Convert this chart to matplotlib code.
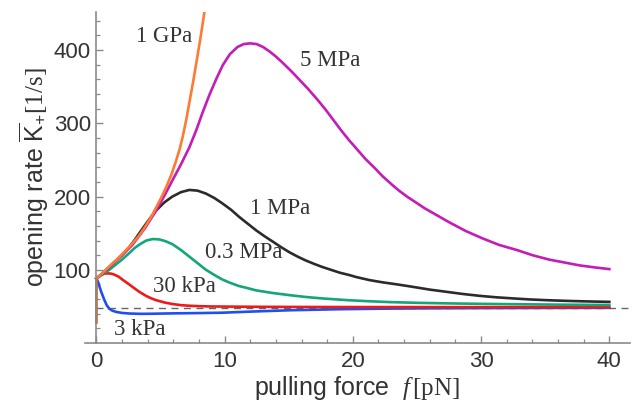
import matplotlib
matplotlib.use("Agg")
import matplotlib.pyplot as plt
from matplotlib.ticker import MultipleLocator, FixedLocator

plt.rcParams['font.family'] = ['Liberation Sans', 'DejaVu Sans']
plt.rcParams['mathtext.fontset'] = 'custom'
plt.rcParams['mathtext.rm'] = 'Liberation Serif'
plt.rcParams['mathtext.it'] = 'Liberation Serif:italic'
plt.rcParams['mathtext.sf'] = 'Liberation Sans'

# values
f_1gpa = [0, 0.6, 1.25, 2.0, 2.81, 3.3, 3.7, 4.2, 4.66, 5.1, 5.45, 5.85, 6.22, 6.5, 6.75,
          7.0, 7.25, 7.55, 7.85, 8.15, 8.42, 8.6]
k_1gpa = [88, 97.5, 108.5, 121, 136, 146, 156, 170, 185, 200, 213, 230, 249, 265, 283,
          304, 328, 357, 388, 420, 451, 472]

f_5mpa = [0, 0.6, 1.25, 2.0, 2.81, 3.8, 4.66, 5.3, 5.93, 6.6, 7.25, 7.8, 8.27, 8.8, 9.34,
          9.85, 10.4, 11.0, 11.5, 12.0, 12.5, 13.0, 13.5, 14.0, 14.5, 15.2, 15.8, 16.5,
          17.2, 17.9, 18.5, 19.1, 19.7, 20.4, 21.0, 21.7, 22.3, 23.0, 23.6, 24.3, 25.0,
          25.6, 26.2, 26.9, 27.5, 28.8, 30.1, 31.4, 32.8, 34.0, 35.3, 36.5, 37.7, 39.0, 40]
k_5mpa = [88, 97, 108, 120, 134, 157, 181, 201, 222, 244, 267, 291, 314, 338, 360,
          379, 394, 404, 408, 409, 408, 404, 398, 391, 383, 371, 360, 347,
          333, 318, 304, 290, 277, 263, 251, 239, 228, 217, 208, 199, 191,
          184, 178, 171, 165, 153, 143, 134, 127, 120, 114, 110, 106, 103, 101]

f_1mpa = [0, 0.6, 1.25, 2.0, 2.57, 3.0, 3.35, 4.0, 4.66, 5.3, 5.93, 6.6, 7.25, 7.9, 8.55,
          9.2, 9.8, 10.5, 11.15, 11.8, 12.45, 13.1, 13.8, 14.4, 15.05, 15.7, 16.3, 17.0,
          17.6, 18.3, 19.0, 19.7, 20.3, 21.3, 22.3, 23.5, 24.6, 26.0, 27.3, 28.6, 29.9,
          31.2, 32.5, 33.8, 35.1, 36.4, 37.6, 38.8, 40]
k_1mpa = [88, 97, 108, 120, 131, 141, 150, 166, 181, 192, 200, 206, 209, 208, 204,
          198, 191, 182, 172, 163, 154, 146, 138, 131, 124, 118, 113, 108,
          104, 100, 96, 93, 90, 86, 83, 80, 77, 73, 70, 67, 64.5,
          62.5, 61, 59.6, 58.6, 57.8, 57.2, 56.7, 56.3]

f_03mpa = [0, 0.5, 1.0, 1.5, 2.0, 2.57, 3.0, 3.4, 3.9, 4.4, 4.9, 5.4, 5.93, 6.6, 7.25,
           7.9, 8.55, 9.2, 9.8, 10.4, 11.1, 11.8, 12.45, 13.7, 15.05, 16.3, 17.6, 19.5,
           21.2, 22.85, 25, 27.5, 30, 33, 36, 40]
k_03mpa = [88, 94, 100, 107, 114, 123, 130, 135, 140, 142, 141.5, 139, 135, 127, 118,
           109, 100, 93, 87, 82.5, 78, 75, 72, 68.5, 65.5, 63, 61, 58.7,
           57.2, 56, 55, 54.2, 53.6, 53, 52.5, 52]

f_30kpa = [0, 0.3, 0.6, 0.88, 1.15, 1.4, 1.75, 2.05, 2.3, 2.57, 2.95, 3.35, 3.87, 4.25,
           4.66, 5.3, 5.95, 6.6, 7.25, 8, 9, 10.5, 12, 15, 20, 30, 40]
k_30kpa = [88, 92.5, 94.7, 95.2, 94.8, 93.5, 90.5, 86.5, 83.3, 80, 75, 70, 64.5, 61.3,
           58.6, 55.5, 53.3, 51.8, 51, 50.4, 50, 49.8, 49.6, 49.4, 49.2, 49.1, 49]

f_3kpa = [0, 0.12, 0.23, 0.4, 0.62, 0.8, 1.0, 1.25, 1.54, 2.0, 2.57, 3.35, 3.9, 5, 6, 8,
          9.8, 12, 15, 19, 22.85, 26, 30, 35, 40]
k_3kpa = [88, 84, 78, 69, 59, 52, 47, 44.3, 42.6, 41.2, 40.4, 40, 40, 40.3, 40.6, 41,
          41.5, 43, 44.8, 46.3, 47.1, 47.5, 47.8, 48, 48.1]

f_edge = [0, 0]
k_edge = [29, 88]

k_limit = 48.6

labels = ["1 GPa", "5 MPa", "1 MPa", "0.3 MPa", "30 kPa", "3 kPa"]
label_f = [5.3, 18.2, 14.3, 11.5, 6.9, 3.35]
label_k = [418, 386, 184, 124, 77, 18]

fig = plt.figure(figsize=(6.33, 4.08), dpi=100)
ax = fig.add_axes([0.134, 0.159, 0.861, 0.812])

ax.axhline(k_limit, xmin=0.9 / 42.5, color='#666666', lw=1.0, ls=(0, (5, 4)), zorder=1)

lw = 1.9
ax.plot(f_3kpa, k_3kpa, color='#1f4ff0', lw=lw)
ax.plot(f_30kpa, k_30kpa, color='#ee1a1a', lw=lw)
ax.plot(f_03mpa, k_03mpa, color='#14a57a', lw=lw)
ax.plot(f_1mpa, k_1mpa, color='#2b2b2b', lw=lw)
ax.plot(f_5mpa, k_5mpa, color='#c41cb6', lw=lw)
ax.plot(f_1gpa, k_1gpa, color='#ff7a32', lw=lw)
ax.plot(f_edge, k_edge, color='#c8682e', lw=lw)

for t, x, y in zip(labels, label_f, label_k):
    ax.text(x, y, t, ha='center', va='center', fontsize=16.5,
            family='Liberation Serif', color='#333333')

ax.set_xlim(-0.9, 41.6)
ax.set_ylim(0, 452)

for s in ['top', 'right']:
    ax.spines[s].set_visible(False)
ax.spines['left'].set_position(('data', 0))
ax.spines['bottom'].set_position(('data', 0))
for s in ['left', 'bottom']:
    ax.spines[s].set_color('#8a8a8a')
    ax.spines[s].set_linewidth(1.2)

ax.xaxis.set_major_locator(MultipleLocator(10))
ax.xaxis.set_minor_locator(MultipleLocator(2))
ax.yaxis.set_major_locator(FixedLocator([100, 200, 300, 400]))
ax.yaxis.set_minor_locator(FixedLocator([20, 40, 60, 80, 120, 140, 160, 180, 220, 240, 260,
                                         280, 320, 340, 360, 380, 420, 440]))
ax.tick_params(which='both', direction='in', color='#8a8a8a', labelsize=16,
               labelcolor='#333333')
ax.tick_params(which='major', length=5, width=1.0)
ax.tick_params(which='minor', length=3, width=0.9)
ax.tick_params(axis='y', pad=4)
ax.tick_params(axis='x', pad=6)

ax.set_xlabel(r"pulling force  $f\,\mathrm{[pN]}$", fontsize=18, color='#333333', labelpad=1)
ax.set_ylabel(r"opening rate $\overline{\mathsf{K}}_{\mathsf{+}}\mathrm{[1/s]}$", fontsize=18,
              color='#333333', labelpad=2)

fig.savefig("out.png", dpi=100)
